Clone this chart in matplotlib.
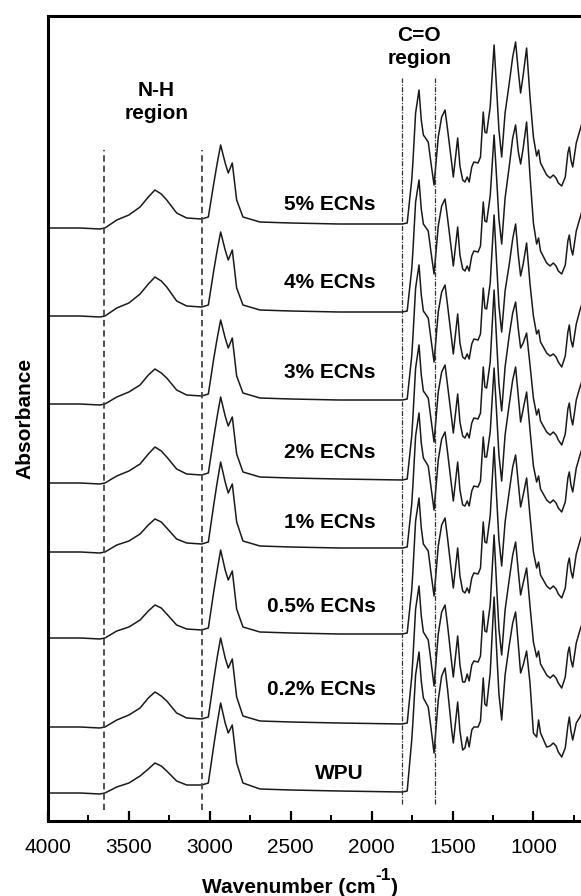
import matplotlib
matplotlib.use('Agg')
import matplotlib.pyplot as plt
from matplotlib.ticker import MultipleLocator

plt.rcParams['font.family'] = ['Liberation Sans', 'DejaVu Sans']

# FTIR spectra, absorbance in arbitrary units
wavenumber = [4000, 3800, 3680, 3648, 3575, 3500, 3431, 3380, 3339, 3300, 3266, 3205, 3143,
              3050, 3009, 2975, 2954, 2933, 2905, 2886, 2861, 2834, 2795, 2690, 2500, 2200,
              1810, 1780, 1752, 1745, 1728, 1707, 1693, 1680, 1650, 1633, 1614, 1588, 1567,
              1546, 1530, 1505, 1495, 1468, 1454, 1437, 1423, 1409, 1397, 1381, 1368, 1342, 1327,
              1310, 1300, 1289, 1267, 1243, 1227, 1213, 1196, 1175, 1149, 1128, 1110, 1094,
              1079, 1063, 1042, 1021, 1000, 980, 968, 956, 918, 897, 877, 860, 846, 825, 803,
              787, 778, 768, 757, 735, 712, 700]

a_wpu = [0, 0, -1, 0, 6, 10, 17, 24, 30, 27, 22, 12, 8, 8, 10, 48, 70, 90, 70, 60, 68, 30, 10, 4, 3, 2,
         1, 2, 53, 70, 118, 141, 112, 95, 86, 65, 40, 93, 117, 125, 103, 63, 50, 91, 62, 43, 45, 56, 46, 63, 66, 66, 72,
         115, 89, 87, 120, 196, 142, 99, 73, 118, 148, 170, 181, 150, 120, 128, 142, 110, 60, 56, 73, 60, 46, 47,
         50, 47, 41, 36, 45, 67, 76, 62, 53, 70, 76, 80]
a_02 = [0, 0, -1, 0, 7, 12, 19, 29, 35, 31, 26, 14, 9, 8, 10, 48, 70, 89, 69, 59, 68, 30, 11, 6, 5, 4,
        3, 4, 50, 68, 118, 141, 111, 95, 87, 66, 41, 93, 115, 122, 101, 64, 50, 91, 62, 45, 45, 53, 46, 62, 66, 65, 71,
        116, 96, 95, 122, 192, 140, 98, 72, 117, 148, 172, 185, 157, 132, 144, 159, 121, 85, 70, 76, 63, 52, 49,
        52, 49, 44, 39, 50, 74, 80, 67, 60, 84, 97, 103]
a_05 = [0, 0, -1, 0, 7, 11, 18, 27, 33, 30, 24, 13, 9, 8, 10, 47, 68, 88, 68, 58, 67, 29, 11, 6, 5, 4,
        4, 5, 48, 66, 117, 140, 110, 94, 87, 65, 42, 92, 113, 120, 99, 64, 50, 90, 62, 47, 45, 50, 45, 60, 65, 64, 70,
        116, 96, 95, 122, 191, 140, 98, 72, 116, 147, 171, 183, 156, 131, 143, 160, 122, 86, 70, 76, 63, 52, 49,
        52, 49, 44, 40, 50, 74, 80, 67, 60, 84, 97, 103]
a_1 = [0, 0, -1, 0, 7, 11, 18, 27, 33, 30, 24, 13, 9, 8, 10, 48, 70, 90, 70, 59, 68, 30, 11, 6, 5, 4,
       4, 5, 48, 66, 116, 139, 109, 94, 86, 65, 42, 92, 113, 120, 99, 65, 51, 90, 62, 47, 46, 51, 46, 61, 66, 65, 71,
       115, 95, 95, 120, 184, 138, 97, 71, 117, 148, 172, 185, 157, 130, 143, 160, 122, 86, 70, 76, 63, 52, 49,
       52, 49, 44, 40, 50, 74, 80, 67, 60, 84, 97, 103]
a_2 = [0, 0, -1, 0, 7, 12, 19, 29, 36, 32, 26, 14, 9, 8, 10, 46, 67, 86, 67, 57, 66, 29, 11, 6, 5, 4,
       3, 4, 47, 65, 115, 138, 108, 92, 85, 64, 41, 91, 111, 118, 97, 64, 50, 89, 61, 47, 45, 50, 45, 60, 65, 64, 70,
       116, 96, 95, 121, 193, 141, 99, 72, 116, 148, 170, 181, 155, 135, 140, 150, 118, 85, 68, 74, 62, 51, 48,
       51, 48, 43, 38, 49, 74, 80, 66, 58, 83, 96, 102]
a_3 = [0, 0, -1, 0, 7, 12, 19, 29, 35, 31, 26, 14, 9, 8, 10, 46, 66, 84, 66, 56, 66, 28, 11, 6, 5, 4,
       4, 5, 48, 66, 116, 139, 109, 93, 86, 65, 42, 92, 112, 119, 98, 64, 50, 90, 61, 47, 45, 50, 45, 60, 65, 64, 70,
       116, 96, 95, 121, 189, 140, 98, 72, 113, 140, 165, 180, 150, 128, 140, 161, 120, 88, 70, 74, 62, 51, 48,
       50, 47, 42, 37, 48, 72, 79, 64, 57, 80, 94, 100]
a_4 = [0, 0, -1, 0, 8, 13, 22, 32, 39, 35, 29, 15, 10, 9, 11, 46, 66, 84, 66, 56, 66, 28, 11, 6, 5, 4,
       4, 5, 47, 64, 114, 136, 107, 92, 85, 64, 42, 90, 110, 117, 97, 64, 50, 89, 61, 47, 45, 50, 45, 60, 65, 64, 70,
       114, 95, 94, 120, 181, 137, 97, 72, 118, 150, 178, 191, 165, 152, 168, 194, 140, 93, 72, 78, 65, 53, 50,
       53, 50, 45, 42, 51, 75, 81, 68, 61, 85, 98, 105]
a_5 = [0, 0, -1, 0, 8, 13, 21, 31, 38, 34, 28, 15, 10, 9, 11, 45, 65, 83, 65, 55, 65, 28, 11, 6, 5, 4,
       4, 5, 48, 65, 115, 138, 108, 93, 86, 65, 43, 91, 111, 118, 98, 65, 51, 90, 62, 48, 46, 51, 46, 61, 66, 65, 71,
       116, 96, 95, 121, 183, 138, 98, 71, 115, 145, 171, 186, 158, 135, 153, 180, 131, 91, 72, 78, 65, 53, 50,
       53, 50, 45, 42, 51, 75, 81, 68, 61, 85, 98, 105]

samples = ['WPU', '0.2% ECNs', '0.5% ECNs', '1% ECNs', '2% ECNs', '3% ECNs', '4% ECNs', '5% ECNs']
spectra = [a_wpu, a_02, a_05, a_1, a_2, a_3, a_4, a_5]
offsets = [28, 94, 183, 269, 338, 417, 505, 593]   # vertical stacking

# band region markers (cm-1)
nh_bounds = [3654, 3046]
co_bounds = [1810, 1606]

# label placement
label_lift = [20, 38, 32, 29, 31, 32, 34, 23]
label_right = [2050, 1975, 1975, 1975, 1975, 1975, 1975, 1975]

fig = plt.figure(figsize=(5.81, 8.96), dpi=100)
ax = fig.add_axes([48 / 581, 75 / 896, 533 / 581, 805 / 896])

for name, spec, off, lift, xr in zip(samples, spectra, offsets, label_lift, label_right):
    assert len(spec) == len(wavenumber)
    ax.plot(wavenumber, [v + off for v in spec], color='#1a1a1a', lw=1.1)
    ax.text(xr, off + lift, name, ha='right', va='center', fontsize=15, fontweight='bold')

ax.vlines(nh_bounds, 11, 671, colors='#444444', lw=1.3, linestyles=(0, (3.5, 2.2)))
ax.vlines(co_bounds, 17, 743, colors='#333333', lw=0.9, linestyles=(0, (4, 1.2, 1, 1.2)))

ax.text(3330, 719, 'N-H\nregion', ha='center', va='center', fontsize=15,
        fontweight='bold', linespacing=1.3)
ax.text(1705, 774, 'C=O\nregion', ha='center', va='center', fontsize=15,
        fontweight='bold', linespacing=1.3)

ax.set_xlim(4000, 4000 - 533 / 0.1618)
ax.set_ylim(0, 805)
ax.set_yticks([])
ax.xaxis.set_major_locator(MultipleLocator(500))
ax.xaxis.set_minor_locator(MultipleLocator(250))
ax.tick_params(axis='x', which='major', direction='in', length=7.5, width=1.6,
               labelsize=15, pad=12)
ax.tick_params(axis='x', which='minor', direction='in', length=4, width=1.4)
for side in ['left', 'bottom', 'top']:
    ax.spines[side].set_linewidth(2.2)
ax.spines['right'].set_visible(False)

ax.set_ylabel('Absorbance', fontsize=15, fontweight='bold', labelpad=10)

# x label with a plain hyphen superscript, centred like the original
fig.canvas.draw()
rend = fig.canvas.get_renderer()
pieces = [('Wavenumber (cm', 15, 0), ('-1', 12.5, 13), (')', 15, 0)]
parts = [fig.text(0, 0, s, fontsize=fs, fontweight='bold', va='baseline') for s, fs, _ in pieces]
widths = [p.get_window_extent(rend).width for p in parts]
x = 300 - sum(widths) / 2
for p, w, (s, fs, rise) in zip(parts, widths, pieces):
    p.set_position((x / 581, (896 - 893 + rise) / 896))
    x += w

fig.savefig('out.png', dpi=100, facecolor='white')
